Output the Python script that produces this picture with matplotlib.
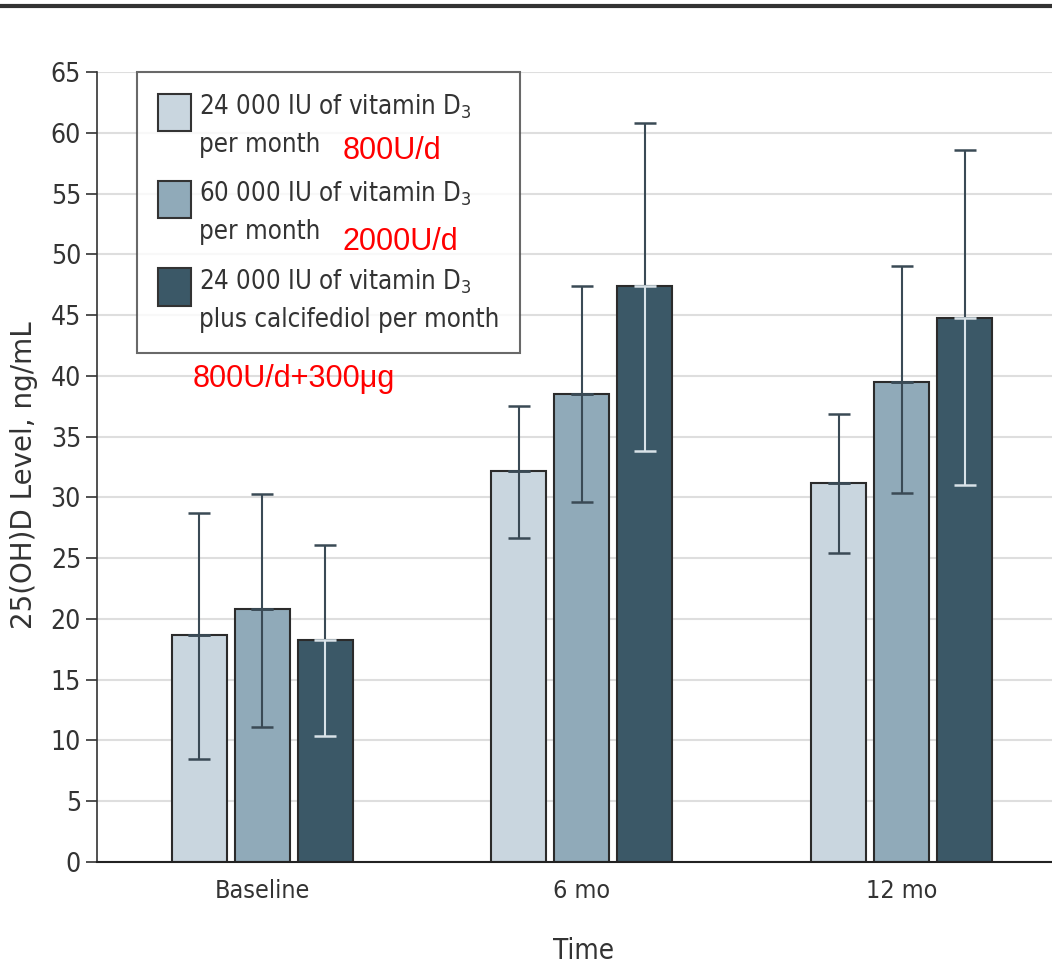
import numpy as np
import matplotlib
matplotlib.use("Agg")
import matplotlib.pyplot as plt
from matplotlib.patches import Patch, Rectangle
from matplotlib.legend_handler import HandlerPatch

plt.rcParams['font.family'] = ['DejaVu Sans']
plt.rcParams['font.stretch'] = 'condensed'
plt.rcParams['mathtext.fontset'] = 'custom'
plt.rcParams['mathtext.rm'] = 'DejaVu Sans:stretch=condensed'

groups = ["Baseline", "6 mo", "12 mo"]
labels = ["24 000 IU of vitamin D$_3$\nper month",
          "60 000 IU of vitamin D$_3$\nper month",
          "24 000 IU of vitamin D$_3$\nplus calcifediol per month"]
means = [[18.7, 32.2, 31.2],
         [20.8, 38.5, 39.5],
         [18.3, 47.4, 44.8]]
upper = [[28.7, 37.5, 36.9],
         [30.3, 47.4, 49.0],
         [26.1, 60.8, 58.6]]
lower = [[8.5, 26.7, 25.4],
         [11.1, 29.6, 30.4],
         [10.4, 33.8, 31.0]]
colors = ["#c9d6df", "#90aab9", "#3b5867"]
err_low_colors = ["#3a4a55", "#3a4a55", "#d8e2e8"]

fig = plt.figure(figsize=(10.52, 9.65), dpi=100)
ax = fig.add_axes([0.0922, 0.1067, 0.9078, 0.8187])

x = np.arange(len(groups))
width = 0.172
step = 0.197

for i in range(3):
    xs = x + (i - 1) * step
    m = np.array(means[i])
    up = np.array(upper[i]) - m
    lo = m - np.array(lower[i])
    ax.bar(xs, m, width, color=colors[i], edgecolor="#2b2b2b", linewidth=1.5, zorder=2)
    ax.errorbar(xs, m, yerr=[np.zeros(3), up], fmt='none', ecolor="#3a4a55",
                elinewidth=1.5, capsize=8, capthick=1.8, zorder=3)
    ax.errorbar(xs, m, yerr=[lo, np.zeros(3)], fmt='none', ecolor=err_low_colors[i],
                elinewidth=1.5, capsize=8, capthick=1.8, zorder=3)

ax.set_xlim(-0.516, 2.47)
ax.set_ylim(0, 65)
ax.set_yticks(np.arange(0, 66, 5))
ax.set_xticks(x)
ax.set_xticklabels(groups)
ax.tick_params(axis='x', length=0, labelsize=18, pad=12, colors="#333333")
ax.tick_params(axis='y', length=8, width=1.2, labelsize=19, colors="#333333")
ax.yaxis.grid(True, color="#dedede", linewidth=1.5, zorder=0)
ax.set_axisbelow(True)
for s in ["top", "right"]:
    ax.spines[s].set_visible(False)
ax.spines["left"].set_color("#333333")
ax.spines["bottom"].set_color("#222222")
ax.spines["left"].set_linewidth(1.2)
ax.spines["bottom"].set_linewidth(1.5)

ax.set_ylabel("25(OH)D Level, ng/mL", fontsize=20, color="#333333",
              fontstretch='normal')
ax.yaxis.set_label_coords(-0.062, 0.49)
ax.set_xlabel("Time", fontsize=20, color="#333333")
ax.xaxis.set_label_coords(0.509, -0.095)


def top_patch(legend, orig_handle, xdescent, ydescent, width, height, fontsize):
    # put the swatch next to the first line of the two-line label
    return Rectangle((-xdescent, 0.17 * fontsize), width, 1.45 * fontsize)


handles = [Patch(facecolor=c, edgecolor="#333333", linewidth=1.5) for c in colors]
leg = ax.legend(handles, labels, loc="upper left", bbox_to_anchor=(0.042, 1.0),
                borderaxespad=0, fontsize=18.5, frameon=True, fancybox=False,
                edgecolor="#444444", handlelength=1.3, handleheight=1.4,
                handletextpad=0.3, labelspacing=0.85, borderpad=0.8,
                labelcolor="#333333",
                handler_map={Patch: HandlerPatch(patch_func=top_patch)})
leg.get_frame().set_linewidth(1.5)
for t in leg.get_texts():
    t.set_linespacing(1.55)

fig.add_artist(plt.Line2D([0, 1], [0.994, 0.994], transform=fig.transFigure,
                          color="#333333", linewidth=3))

red_font = ['Liberation Sans', 'DejaVu Sans']
fig.text(0.326, 0.8352, "800U/d", color="red", fontsize=22, family=red_font,
         stretch='normal', va="baseline")
fig.text(0.326, 0.7409, "2000U/d", color="red", fontsize=22, family=red_font,
         stretch='normal', va="baseline")
fig.text(0.1835, 0.599, "800U/d+300μg", color="red", fontsize=22, family=red_font,
         stretch='normal', va="baseline")

fig.savefig("out.png", dpi=100)
